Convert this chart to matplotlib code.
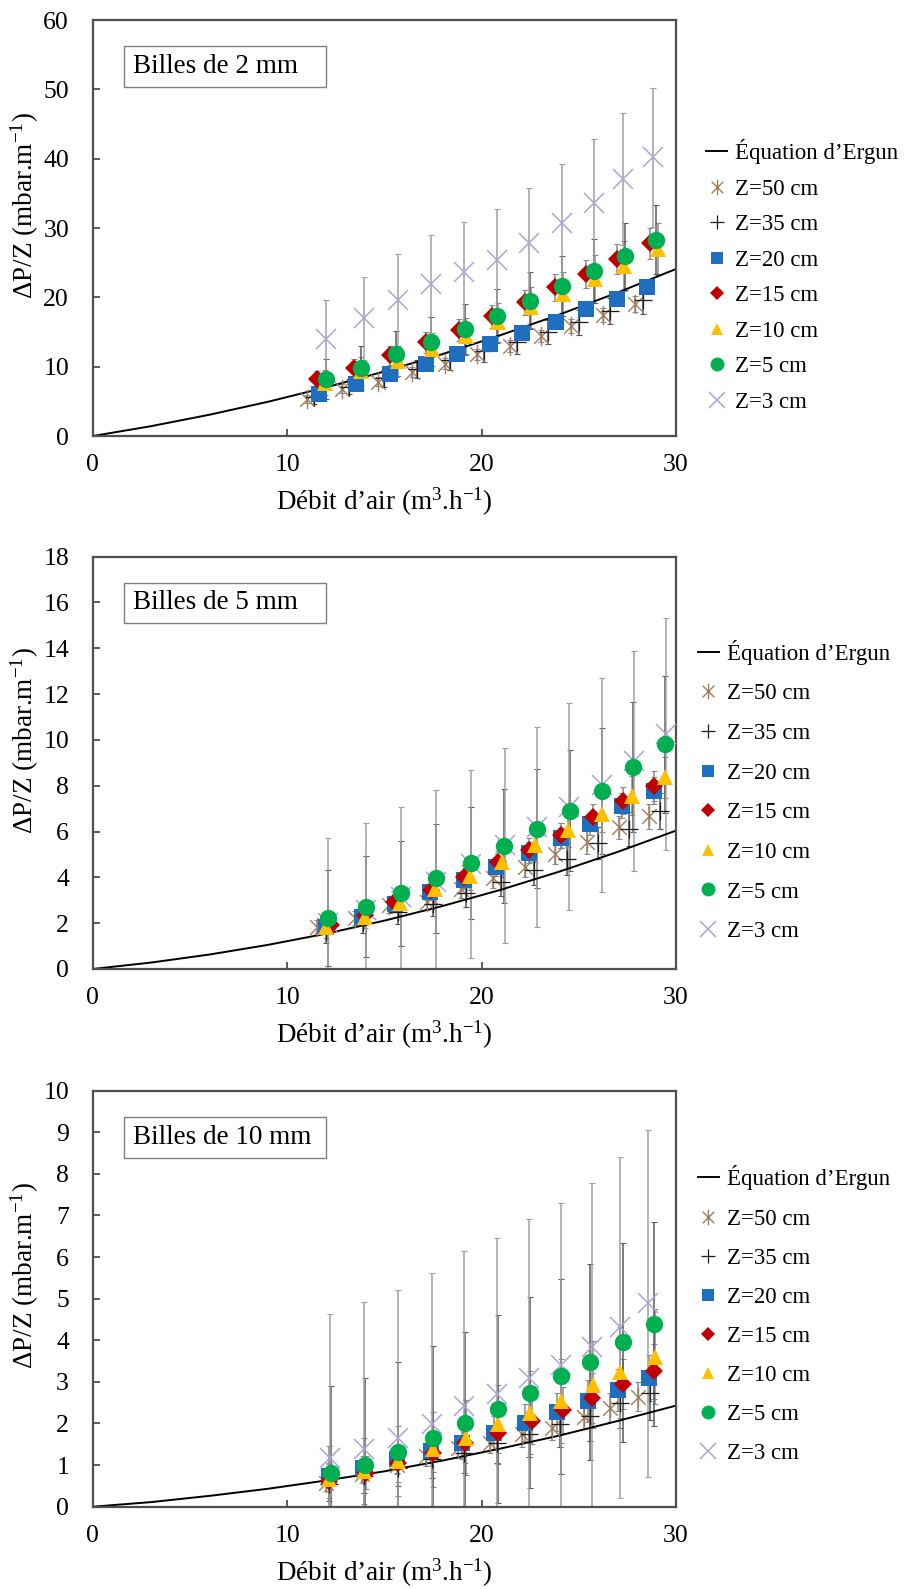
import matplotlib.pyplot as plt
from matplotlib.path import Path
from matplotlib.patches import Rectangle

plt.rcParams['font.family'] = ['Liberation Serif', 'DejaVu Serif']
plt.rcParams['mathtext.fontset'] = 'custom'
plt.rcParams['mathtext.rm'] = 'Liberation Serif'

labels = ['Z=50 cm', 'Z=35 cm', 'Z=20 cm', 'Z=15 cm', 'Z=10 cm', 'Z=5 cm', 'Z=3 cm']
titles = ['Billes de 2 mm', 'Billes de 5 mm', 'Billes de 10 mm']
ymax = [60, 18, 10]
ystep = [10, 2, 1]

# Ergun curve
ergun_x = [0, 3, 6, 9, 12, 15, 18, 21, 24, 27, 30]
p1_ergun = [0, 1.42, 3.07, 4.93, 7.01, 9.31, 11.82, 14.57, 17.52, 20.70, 24.09]
p2_ergun = [0, 0.28, 0.63, 1.05, 1.54, 2.11, 2.75, 3.46, 4.25, 5.11, 6.04]
p3_ergun = [0, 0.11, 0.26, 0.43, 0.63, 0.85, 1.11, 1.40, 1.71, 2.06, 2.43]

# ---- billes de 2 mm
p1_x50 = [11.03, 12.83, 14.65, 16.4, 18.1, 19.75, 21.45, 23.06, 24.6, 26.26, 27.91]
p1_y50 = [5.3, 6.84, 7.85, 9.25, 10.45, 11.8, 13.0, 14.45, 15.9, 17.49, 19.03]
p1_e50 = [0.6, 0.6, 0.7, 0.7, 0.8, 0.8, 0.9, 0.9, 1.0, 1.0, 1.1]
p1_x35 = [11.4, 13.2, 15.0, 16.7, 18.4, 20.1, 21.8, 23.4, 25.0, 26.6, 28.3]
p1_y35 = [5.6, 7.1, 8.3, 9.6, 10.9, 12.2, 13.5, 15.0, 16.4, 18.0, 19.6]
p1_e35 = [1.0, 1.1, 1.2, 1.3, 1.4, 1.5, 1.6, 1.7, 1.8, 1.9, 2.0]
p1_x20 = [11.65, 13.55, 15.31, 17.13, 18.74, 20.43, 22.09, 23.84, 25.37, 26.94, 28.53]
p1_y20 = [6.12, 7.56, 9.0, 10.36, 11.9, 13.34, 14.84, 16.47, 18.3, 19.75, 21.53]
p1_e20 = [0.4, 0.5, 0.5, 0.6, 0.6, 0.7, 0.7, 0.8, 0.8, 0.9, 0.9]
p1_x15 = [11.55, 13.45, 15.31, 17.13, 18.84, 20.52, 22.21, 23.78, 25.37, 26.98, 28.64]
p1_y15 = [8.19, 9.87, 11.65, 13.49, 15.27, 17.25, 19.27, 21.43, 23.36, 25.53, 27.79]
p1_e15 = [1.2, 1.3, 1.4, 1.5, 1.6, 1.7, 1.8, 1.9, 2.0, 2.1, 2.2]
p1_x10 = [11.96, 13.82, 15.68, 17.45, 19.2, 20.85, 22.55, 24.2, 25.85, 27.35, 29.05]
p1_y10 = [7.7, 9.39, 10.84, 12.52, 14.45, 16.38, 18.55, 20.47, 22.64, 24.57, 26.97]
p1_e10 = [1.8, 2.0, 2.2, 2.4, 2.6, 2.8, 3.0, 3.2, 3.4, 3.6, 3.7]
p1_x5 = [12.0, 13.82, 15.62, 17.4, 19.15, 20.81, 22.5, 24.13, 25.79, 27.4, 28.95]
p1_y5 = [8.28, 9.87, 11.8, 13.63, 15.41, 17.34, 19.5, 21.68, 23.84, 25.9, 28.3]
p1_e5 = [2.9, 3.1, 3.3, 3.5, 3.7, 3.9, 4.1, 4.3, 4.6, 4.8, 5.0]
p1_x3 = [12.0, 13.93, 15.7, 17.4, 19.11, 20.81, 22.44, 24.13, 25.79, 27.25, 28.84]
p1_y3 = [13.97, 16.96, 19.6, 21.9, 23.7, 25.4, 27.8, 30.7, 33.6, 37.1, 40.2]
p1_e3 = [5.6, 6.0, 6.6, 7.1, 7.2, 7.35, 8.0, 8.5, 9.2, 9.5, 10.0]

# ---- billes de 5 mm
p2_x50 = [11.53, 13.49, 15.24, 17.2, 18.95, 20.6, 22.25, 23.8, 25.44, 27.09, 28.6]
p2_y50 = [1.85, 2.21, 2.79, 2.94, 3.51, 3.95, 4.45, 5.03, 5.54, 6.19, 6.67]
p2_e50 = [0.3, 0.3, 0.35, 0.35, 0.4, 0.4, 0.45, 0.45, 0.5, 0.5, 0.55]
p2_x35 = [12.0, 13.9, 15.7, 17.5, 19.2, 21.0, 22.7, 24.4, 26.0, 27.6, 29.2]
p2_y35 = [1.65, 2.05, 2.5, 2.85, 3.3, 3.8, 4.3, 4.8, 5.5, 6.1, 6.9]
p2_e35 = [0.5, 0.5, 0.55, 0.55, 0.6, 0.6, 0.65, 0.7, 0.7, 0.75, 0.8]
p2_x20 = [12.0, 13.86, 15.57, 17.36, 19.07, 20.76, 22.45, 24.1, 25.6, 27.2, 28.85]
p2_y20 = [1.85, 2.28, 2.82, 3.37, 3.88, 4.45, 5.08, 5.71, 6.33, 7.13, 7.78]
p2_e20 = [0.3, 0.3, 0.35, 0.35, 0.4, 0.4, 0.45, 0.45, 0.5, 0.55, 0.6]
p2_x15 = [12.24, 13.99, 15.49, 17.4, 19.11, 20.85, 22.45, 24.1, 25.71, 27.26, 28.85]
p2_y15 = [1.92, 2.36, 2.94, 3.44, 4.02, 4.67, 5.18, 5.83, 6.62, 7.35, 8.0]
p2_e15 = [0.4, 0.4, 0.45, 0.45, 0.5, 0.5, 0.55, 0.55, 0.6, 0.6, 0.65]
p2_x10 = [12.0, 13.99, 15.81, 17.6, 19.38, 21.07, 22.76, 24.45, 26.21, 27.75, 29.42]
p2_y10 = [1.85, 2.28, 2.89, 3.47, 4.05, 4.67, 5.39, 6.07, 6.77, 7.56, 8.36]
p2_e10 = [0.5, 0.5, 0.55, 0.6, 0.6, 0.65, 0.7, 0.75, 0.8, 0.85, 0.9]
p2_x5 = [12.1, 14.04, 15.86, 17.65, 19.46, 21.13, 22.87, 24.56, 26.2, 27.81, 29.42]
p2_y5 = [2.24, 2.72, 3.30, 3.95, 4.64, 5.37, 6.12, 6.91, 7.78, 8.82, 9.80]
p2_e5 = [2.1, 2.2, 2.3, 2.4, 2.45, 2.5, 2.6, 2.65, 2.75, 2.85, 3.0]
p2_x3 = [12.1, 14.04, 15.86, 17.65, 19.46, 21.2, 22.87, 24.52, 26.21, 27.82, 29.46]
p2_y3 = [2.0, 2.56, 3.16, 3.8, 4.58, 5.4, 6.2, 7.09, 8.03, 9.09, 10.24]
p2_e3 = [3.7, 3.8, 3.9, 4.0, 4.1, 4.25, 4.37, 4.5, 4.66, 4.8, 5.06]

# ---- billes de 10 mm
p3_x50 = [11.98, 13.84, 15.64, 17.12, 18.77, 20.41, 22.06, 23.6, 25.25, 26.58, 28.02]
p3_y50 = [0.58, 0.78, 1.0, 1.22, 1.42, 1.54, 1.74, 1.9, 2.16, 2.38, 2.64]
p3_e50 = [0.2, 0.2, 0.2, 0.25, 0.25, 0.25, 0.3, 0.3, 0.3, 0.35, 0.35]
p3_x35 = [12.14, 13.95, 15.68, 17.43, 19.09, 20.78, 22.43, 24.01, 25.56, 27.1, 28.65]
p3_y35 = [0.54, 0.74, 0.94, 1.14, 1.30, 1.54, 1.74, 1.99, 2.18, 2.5, 2.74]
p3_e35 = [0.4, 0.4, 0.45, 0.45, 0.5, 0.5, 0.55, 0.55, 0.6, 0.6, 0.65]
p3_x20 = [12.14, 13.89, 15.64, 17.39, 18.97, 20.62, 22.22, 23.87, 25.45, 27.0, 28.6]
p3_y20 = [0.74, 0.92, 1.14, 1.34, 1.54, 1.78, 2.02, 2.28, 2.54, 2.81, 3.09]
p3_e20 = [0.3, 0.3, 0.35, 0.35, 0.4, 0.4, 0.45, 0.45, 0.5, 0.5, 0.55]
p3_x15 = [12.14, 14.03, 15.68, 17.49, 19.14, 20.82, 22.57, 24.18, 25.7, 27.26, 28.85]
p3_y15 = [0.62, 0.82, 1.04, 1.28, 1.54, 1.78, 2.06, 2.32, 2.62, 2.95, 3.25]
p3_e15 = [0.4, 0.4, 0.45, 0.45, 0.5, 0.5, 0.55, 0.55, 0.6, 0.6, 0.65]
p3_x10 = [12.14, 13.95, 15.72, 17.49, 19.18, 20.82, 22.47, 24.07, 25.72, 27.1, 28.91]
p3_y10 = [0.66, 0.86, 1.10, 1.38, 1.66, 1.98, 2.26, 2.54, 2.93, 3.23, 3.61]
p3_e10 = [0.8, 0.8, 0.85, 0.9, 0.9, 0.95, 1.0, 1.0, 1.05, 1.1, 1.15]
p3_x5 = [12.24, 13.99, 15.68, 17.49, 19.14, 20.82, 22.47, 24.07, 25.56, 27.27, 28.85]
p3_y5 = [0.81, 1.0, 1.32, 1.66, 2.0, 2.35, 2.74, 3.13, 3.48, 3.95, 4.39]
p3_e5 = [2.1, 2.1, 2.15, 2.2, 2.2, 2.25, 2.3, 2.35, 2.35, 2.4, 2.45]
p3_x3 = [12.18, 13.95, 15.72, 17.43, 19.09, 20.78, 22.43, 24.07, 25.66, 27.1, 28.58]
p3_y3 = [1.18, 1.38, 1.66, 1.98, 2.42, 2.72, 3.09, 3.41, 3.85, 4.31, 4.89]
p3_e3 = [3.45, 3.53, 3.56, 3.64, 3.72, 3.74, 3.83, 3.89, 3.93, 4.09, 4.17]

panels = [
    (p1_ergun, [(p1_x50, p1_y50, p1_e50), (p1_x35, p1_y35, p1_e35), (p1_x20, p1_y20, p1_e20),
                (p1_x15, p1_y15, p1_e15), (p1_x10, p1_y10, p1_e10), (p1_x5, p1_y5, p1_e5),
                (p1_x3, p1_y3, p1_e3)]),
    (p2_ergun, [(p2_x50, p2_y50, p2_e50), (p2_x35, p2_y35, p2_e35), (p2_x20, p2_y20, p2_e20),
                (p2_x15, p2_y15, p2_e15), (p2_x10, p2_y10, p2_e10), (p2_x5, p2_y5, p2_e5),
                (p2_x3, p2_y3, p2_e3)]),
    (p3_ergun, [(p3_x50, p3_y50, p3_e50), (p3_x35, p3_y35, p3_e35), (p3_x20, p3_y20, p3_e20),
                (p3_x15, p3_y15, p3_e15), (p3_x10, p3_y10, p3_e10), (p3_x5, p3_y5, p3_e5),
                (p3_x3, p3_y3, p3_e3)]),
]

# asterisk like Excel: vertical stroke + X
aster = Path([(0, -1), (0, 1), (-0.75, -0.75), (0.75, 0.75), (-0.75, 0.75), (0.75, -0.75)],
             [Path.MOVETO, Path.LINETO] * 3)

# marker, colour, size, edge width, zorder, errorbar colour
styles = [
    (aster, '#A07D5C', 14, 1.0, 4, '#8a8a8a'),
    ('+', '#1a1a1a', 13, 0.9, 5, '#555555'),
    ('s', '#1F6FC0', 11, 0.0, 6, '#8a8a8a'),
    ('D', '#C00000', 9, 0.0, 7, '#8a8a8a'),
    ('^', '#FFC000', 11, 0.0, 8, '#8a8a8a'),
    ('o', '#00B050', 12.5, 0.0, 9, '#5a5a5a'),
    ('x', '#B0A2D6', 14, 1.1, 3, '#a0a0a0'),
]

axes_pos = [[0.102, 0.7256, 0.6417, 0.2618],
            [0.102, 0.3902, 0.6417, 0.2595],
            [0.102, 0.0518, 0.6417, 0.2618]]
leg_pos = [(0.777, 0.8263, 0.63), (0.768, 0.5022, 0.81), (0.768, 0.1725, 0.79)]

fig = plt.figure(figsize=(9.09, 15.89), dpi=100)

for i, (ergun, series) in enumerate(panels):
    ax = fig.add_axes(axes_pos[i])
    handles = []
    ln, = ax.plot(ergun_x, ergun, color='black', lw=1.4, zorder=2, label='Équation d’Ergun')
    handles.append(ln)
    for (xs, ys, es), (mk, col, ms, mew, zo, ecol), lab in zip(series, styles, labels):
        ax.errorbar(xs, ys, yerr=es, fmt='none', ecolor=ecol, elinewidth=1.1,
                    capsize=2.5, capthick=0.8, zorder=1)
        if mew > 0:
            h, = ax.plot(xs, ys, ls='none', marker=mk, ms=ms, mec=col, mfc='none',
                         mew=mew, zorder=zo, label=lab)
        else:
            h, = ax.plot(xs, ys, ls='none', marker=mk, ms=ms, mec=col, mfc=col,
                         mew=0, zorder=zo, label=lab)
        handles.append(h)

    ax.set_xlim(0, 30)
    ax.set_ylim(0, ymax[i])
    ax.set_xticks([0, 10, 20, 30])
    ax.set_yticks(range(0, ymax[i] + 1, ystep[i]))
    ax.tick_params(direction='in', length=5, width=1.2, labelsize=18.5, color='#404040')
    ax.tick_params(axis='x', pad=13)
    ax.tick_params(axis='y', pad=17)
    for sp in ax.spines.values():
        sp.set_color('#505050')
        sp.set_linewidth(1.6)
    ax.set_xlabel('Débit d’air (m$\\mathregular{^{3}}$.h$\\mathregular{^{-1}}$)', fontsize=19.5, labelpad=7)
    ax.set_ylabel('ΔP/Z (mbar.m$\\mathregular{^{-1}}$)', fontsize=19.5)
    ax.yaxis.set_label_coords(-0.088, 0.555)

    ax.add_patch(Rectangle((0.053, 0.839), 0.347, 0.098, transform=ax.transAxes,
                           fc='white', ec='#808080', lw=1.0, zorder=10))
    ax.text(0.0686, 0.888, titles[i], transform=ax.transAxes, fontsize=19.5,
            va='center', ha='left', zorder=11)

    lx, ly, lsp = leg_pos[i]
    fig.legend(handles=handles, loc='center left', bbox_to_anchor=(lx, ly),
               bbox_transform=fig.transFigure, frameon=False, fontsize=16.5,
               handlelength=0.9, handletextpad=0.35, borderpad=0, borderaxespad=0,
               labelspacing=lsp, markerscale=0.8)

fig.savefig('out.png', dpi=100)
